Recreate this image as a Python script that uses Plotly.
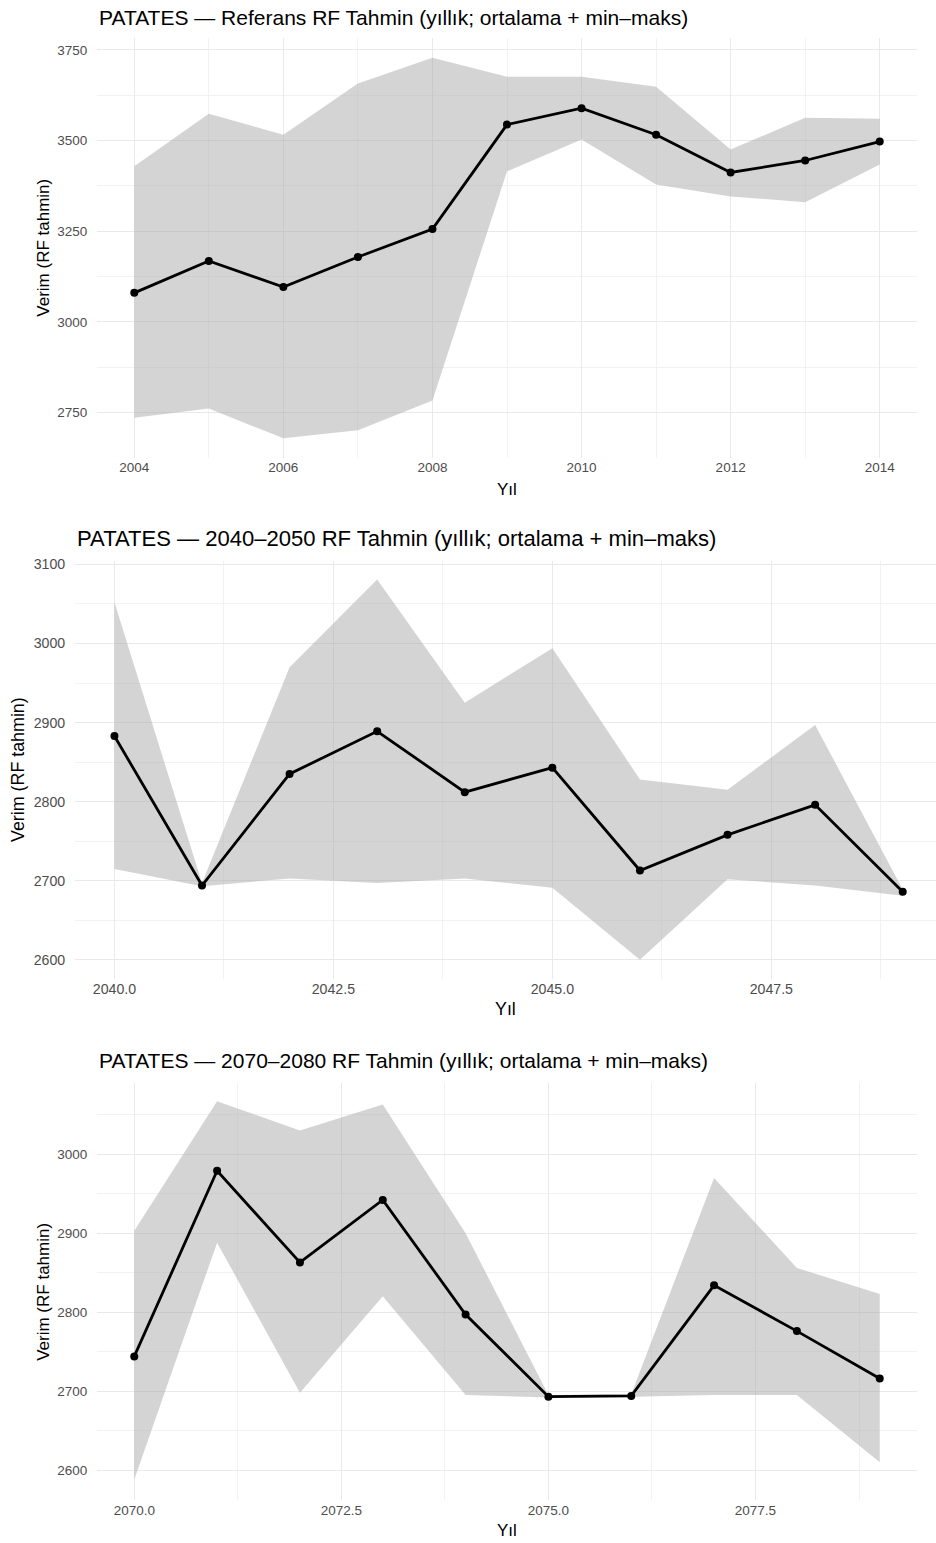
import plotly.graph_objects as go

# ---- data -------------------------------------------------------------
years_ref = [2004, 2005, 2006, 2007, 2008, 2009, 2010, 2011, 2012, 2013, 2014]
mean_ref = [3080, 3168, 3096, 3179, 3256, 3544, 3589, 3516, 3412, 3445, 3497]
max_ref = [3429, 3574, 3516, 3657, 3728, 3676, 3676, 3648, 3475, 3563, 3560]
min_ref = [2736, 2761, 2679, 2701, 2783, 3415, 3503, 3379, 3346, 3330, 3434]

years_2040 = [2040, 2041, 2042, 2043, 2044, 2045, 2046, 2047, 2048, 2049]
mean_2040 = [2883, 2694, 2835, 2889, 2812, 2843, 2713, 2758, 2796, 2686]
max_2040 = [3052, 2697, 2970, 3081, 2925, 2994, 2828, 2815, 2897, 2689]
min_2040 = [2715, 2693, 2703, 2697, 2703, 2691, 2600, 2702, 2694, 2681]

years_2070 = [2070, 2071, 2072, 2073, 2074, 2075, 2076, 2077, 2078, 2079]
mean_2070 = [2744, 2979, 2863, 2942, 2797, 2693, 2694, 2834, 2776, 2716]
max_2070 = [2903, 3067, 3030, 3063, 2900, 2695, 2696, 2970, 2856, 2823]
min_2070 = [2588, 2888, 2698, 2820, 2695, 2692, 2693, 2695, 2695, 2610]

titles = [
    "PATATES — Referans RF Tahmin (yıllık; ortalama + min–maks)",
    "PATATES — 2040–2050 RF Tahmin (yıllık; ortalama + min–maks)",
    "PATATES — 2070–2080 RF Tahmin (yıllık; ortalama + min–maks)",
]
x_title = "Yıl"
y_title = "Verim (RF tahmin)"

W, H = 936, 1543
FONT = "Liberation Sans, Arial, sans-serif"
GRID = "#e9e9e9"
MINOR = "#f2f2f2"
TICK = "#4d4d4d"


def px_x(v):
    return v / W


def px_y(v):
    return 1 - v / H


# panel geometry in pixels: left, right, top, bottom; s = text scale
panels = [
    dict(years=years_ref, mean=mean_ref, hi=max_ref, lo=min_ref,
         box=(97, 917, 33, 454), xr=[2003.5, 2014.5], yr=[2626, 3783],
         xdt=2, xminor=1, xfmt="d", ydt=250, yminor=125, y0=2750,
         title_y=13, title_x=97, ytitle_x=44, xtitle_y=486, s=1.0),
    dict(years=years_2040, mean=mean_2040, hi=max_2040, lo=min_2040,
         box=(75, 936, 558, 977), xr=[2039.55, 2049.38], yr=[2576, 3104],
         xdt=2.5, xminor=1.25, xfmt=".1f", ydt=100, yminor=50, y0=2600,
         title_y=535, title_x=75, ytitle_x=18, xtitle_y=1007, s=1.05),
    dict(years=years_2070, mean=mean_2070, hi=max_2070, lo=min_2070,
         box=(97, 917, 1082, 1500), xr=[2069.55, 2079.45], yr=[2562, 3089.5],
         xdt=2.5, xminor=1.25, xfmt=".1f", ydt=100, yminor=50, y0=2600,
         title_y=1059, title_x=97, ytitle_x=44, xtitle_y=1530, s=1.0),
]

fig = go.Figure()
annotations = []

for i, p in enumerate(panels, start=1):
    xa = "x" if i == 1 else f"x{i}"
    ya = "y" if i == 1 else f"y{i}"
    s = p["s"]
    # min-max ribbon
    fig.add_trace(go.Scatter(
        x=p["years"] + p["years"][::-1],
        y=p["hi"] + p["lo"][::-1],
        fill="toself", fillcolor="rgba(170,170,170,0.5)",
        line=dict(width=0), mode="lines", hoverinfo="skip",
        showlegend=False, xaxis=xa, yaxis=ya,
    ))
    # yearly mean
    fig.add_trace(go.Scatter(
        x=p["years"], y=p["mean"], mode="lines+markers",
        line=dict(color="black", width=2.8),
        marker=dict(color="black", size=8),
        showlegend=False, xaxis=xa, yaxis=ya,
    ))

    left, right, top, bottom = p["box"]
    xkey = "xaxis" if i == 1 else f"xaxis{i}"
    ykey = "yaxis" if i == 1 else f"yaxis{i}"
    fig.layout[xkey] = dict(
        domain=[px_x(left), px_x(right)], range=p["xr"], anchor=ya,
        tick0=p["years"][0], dtick=p["xdt"], tickformat=p["xfmt"],
        showgrid=True, gridcolor=GRID, gridwidth=1.2,
        minor=dict(dtick=p["xminor"], tick0=p["years"][0], showgrid=True,
                   gridcolor=MINOR, gridwidth=0.9),
        zeroline=False, showline=False,
        ticks="", ticklen=0,
        tickfont=dict(family=FONT, size=13.5 * s, color=TICK),
    )
    fig.layout[ykey] = dict(
        domain=[px_y(bottom), px_y(top)], range=p["yr"], anchor=xa,
        tick0=p["y0"], dtick=p["ydt"],
        showgrid=True, gridcolor=GRID, gridwidth=1.2,
        minor=dict(dtick=p["yminor"], tick0=p["y0"], showgrid=True,
                   gridcolor=MINOR, gridwidth=0.9),
        zeroline=False, showline=False,
        ticks="outside", ticklen=6, tickcolor="rgba(0,0,0,0)",
        tickfont=dict(family=FONT, size=13.5 * s, color=TICK),
    )

    annotations.append(dict(
        text=titles[i - 1], xref="paper", yref="paper",
        x=px_x(p["title_x"]), y=px_y(p["title_y"]),
        xanchor="left", yanchor="middle", showarrow=False,
        font=dict(family=FONT, size=21 * s, color="black"),
    ))
    annotations.append(dict(
        text=x_title, xref="paper", yref="paper",
        x=px_x((left + right) / 2), y=px_y(p["xtitle_y"]),
        xanchor="center", yanchor="middle", showarrow=False,
        font=dict(family=FONT, size=17 * s, color="black"),
    ))
    annotations.append(dict(
        text=y_title, xref="paper", yref="paper",
        x=px_x(p["ytitle_x"]), y=px_y((top + bottom) / 2),
        xanchor="center", yanchor="middle", showarrow=False, textangle=-90,
        font=dict(family=FONT, size=17 * s, color="black"),
    ))

fig.update_layout(
    width=W, height=H,
    margin=dict(l=0, r=0, t=0, b=0),
    paper_bgcolor="white", plot_bgcolor="white",
    annotations=annotations,
    hovermode=False,
)

fig.write_html("out.html", config={"displayModeBar": False})
